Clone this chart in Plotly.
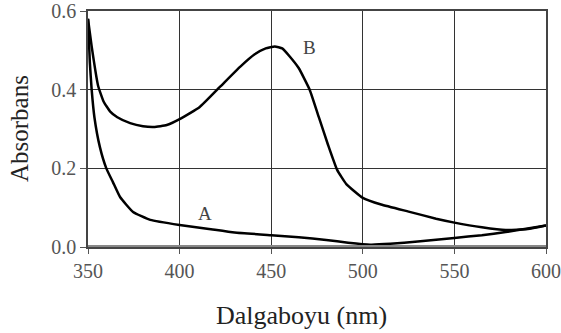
import plotly.graph_objects as go

# Curve A (wavelength nm, absorbance)
wl_a = [350, 351, 352, 353.5, 356.5, 360, 363.6, 367.5, 374.6, 384, 400, 416, 430, 450, 465,
        480, 492, 504, 515, 530, 550, 565, 578, 590, 600]
abs_a = [0.58, 0.47, 0.40, 0.33, 0.254, 0.20, 0.165, 0.127, 0.089, 0.069, 0.056, 0.046, 0.037,
         0.030, 0.025, 0.018, 0.011, 0.006, 0.008, 0.014, 0.023, 0.030, 0.038, 0.047, 0.055]

# Curve B
wl_b = [350, 352, 355.5, 358.5, 362, 366, 373, 380, 386, 393, 400, 411, 422, 433, 441,
        447, 452, 456, 460, 465, 471, 476, 481, 486, 491, 500, 510, 525, 540, 550, 565,
        578, 590, 600]
abs_b = [0.58, 0.51, 0.41, 0.37, 0.345, 0.33, 0.315, 0.307, 0.305, 0.31, 0.325, 0.356,
         0.407, 0.458, 0.49, 0.505, 0.51, 0.505, 0.485, 0.455, 0.40, 0.33, 0.26, 0.196,
         0.16, 0.125, 0.108, 0.09, 0.072, 0.062, 0.05, 0.043, 0.046, 0.055]

x_ticks = [350, 400, 450, 500, 550, 600]
y_ticks = [0.0, 0.2, 0.4, 0.6]
y_tick_text = ["0.0", "0.2", "0.4", "0.6"]

labels = [("A", 414, 0.086), ("B", 471, 0.506)]
x_title = "Dalgaboyu (nm)"
y_title = "Absorbans"

serif = "'Liberation Serif', 'Times New Roman', serif"

fig = go.Figure()
for xs, ys in [(wl_a, abs_a), (wl_b, abs_b)]:
    fig.add_trace(go.Scatter(x=xs, y=ys, mode="lines",
                             line=dict(color="black", width=2.5, shape="spline", smoothing=0.4),
                             showlegend=False, hoverinfo="skip"))

for txt, xv, yv in labels:
    fig.add_annotation(x=xv, y=yv, text=txt, showarrow=False,
                       font=dict(family=serif, size=19, color="#444"))

# axis titles as annotations for exact placement
fig.add_annotation(xref="paper", yref="paper", x=0.467, y=0, yshift=-68,
                   text=x_title, showarrow=False, yanchor="middle", xanchor="center",
                   font=dict(family=serif, size=26, color="#222"))
fig.add_annotation(xref="paper", yref="paper", x=0, xshift=-69, y=0.5,
                   text=y_title, showarrow=False, textangle=-90,
                   yanchor="middle", xanchor="center",
                   font=dict(family=serif, size=25, color="#222"))

fig.update_layout(
    width=561, height=333,
    margin=dict(l=88, r=15, t=11, b=86, autoexpand=False),
    paper_bgcolor="white", plot_bgcolor="white",
    font=dict(family=serif, color="#555"),
)
fig.update_xaxes(
    range=[350, 600], tickvals=x_ticks, ticks="outside", ticklen=5, tickcolor="#555",
    showgrid=True, gridcolor="#333", gridwidth=1,
    showline=True, linecolor="#444", linewidth=1.5, mirror=True,
    tickfont=dict(family=serif, size=20, color="#555"),
    zeroline=False, automargin=False, ticklabeloverflow="allow",
)
fig.update_yaxes(
    range=[0, 0.6], tickvals=y_ticks, ticktext=y_tick_text, ticks="outside", ticklen=6,
    tickcolor="#555",
    showgrid=True, gridcolor="#333", gridwidth=1,
    showline=True, linecolor="#444", linewidth=1.5, mirror=True,
    tickfont=dict(family=serif, size=20, color="#555"),
    zeroline=False, automargin=False, ticklabeloverflow="allow",
)
# thick gray baseline at zero absorbance
fig.add_hline(y=0, line=dict(color="#888", width=4))

fig.write_html("out.html", config={"displayModeBar": False},
               post_script="document.body.style.margin='0px';")
